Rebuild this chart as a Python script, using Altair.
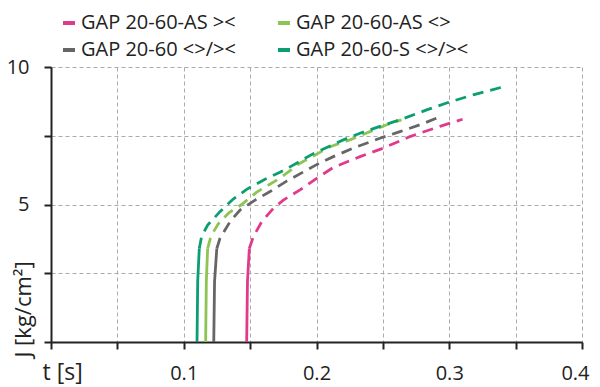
import altair as alt
import pandas as pd

# ---- data ----
series_names = ["GAP 20-60-AS ><", "GAP 20-60 <>/><", "GAP 20-60-AS <>", "GAP 20-60-S <>/><"]
series_colors = ["#e03a8c", "#666666", "#8dc454", "#0a9e72"]

# solid (initial) segments
pink_solid_t = [0.1474, 0.1480, 0.1494]
pink_solid_j = [0.0, 2.2, 3.4]
lgreen_solid_t = [0.1165, 0.1170, 0.1180]
lgreen_solid_j = [0.0, 2.2, 3.4]
gray_solid_t = [0.1226, 0.1232, 0.1249]
gray_solid_j = [0.0, 2.2, 3.4]
teal_solid_t = [0.1100, 0.1105, 0.1117]
teal_solid_j = [0.0, 2.2, 3.4]

# dashed segments
pink_dash_t = [0.1494, 0.1524, 0.1587, 0.1675, 0.1750, 0.1876, 0.2001, 0.2127, 0.2328, 0.2503, 0.2704, 0.2930, 0.3100]
pink_dash_j = [3.4, 3.83, 4.37, 4.86, 5.16, 5.53, 5.95, 6.35, 6.74, 7.05, 7.47, 7.84, 8.10]
lgreen_dash_t = [0.1180, 0.1205, 0.1260, 0.1340, 0.1436, 0.1550, 0.1725, 0.1876, 0.2102, 0.2252, 0.2403, 0.2529, 0.2640]
lgreen_dash_j = [3.4, 3.85, 4.30, 4.70, 5.00, 5.45, 5.96, 6.50, 7.10, 7.35, 7.65, 7.90, 8.08]
gray_dash_t = [0.1249, 0.1273, 0.1348, 0.1424, 0.1537, 0.1650, 0.1775, 0.1926, 0.2001, 0.2127, 0.2277, 0.2478, 0.2629, 0.2780, 0.2905]
gray_dash_j = [3.4, 3.77, 4.37, 4.80, 5.16, 5.47, 5.85, 6.25, 6.45, 6.74, 7.05, 7.41, 7.65, 7.90, 8.14]
teal_dash_t = [0.1117, 0.1135, 0.1180, 0.1273, 0.1373, 0.1474, 0.1612, 0.1725, 0.1850, 0.1976, 0.2202, 0.2328, 0.2478, 0.2629, 0.2830, 0.2980, 0.3180, 0.3400]
teal_dash_j = [3.4, 3.85, 4.25, 4.74, 5.20, 5.55, 5.92, 6.17, 6.50, 6.85, 7.35, 7.59, 7.84, 8.08, 8.44, 8.69, 8.99, 9.27]

x_ticks = [0, 0.05, 0.1, 0.15, 0.2, 0.25, 0.3, 0.35, 0.4]
y_ticks = [0, 2.5, 5, 7.5, 10]

# ---- build table ----
rows = []
def add(name, part, ts, js):
    for i, (t, j) in enumerate(zip(ts, js)):
        rows.append({"series": name, "part": part, "t": t, "J": j, "order": i})

PINK, GRAY, LGREEN, TEAL = series_names
add(PINK, "solid", pink_solid_t, pink_solid_j)
add(LGREEN, "solid", lgreen_solid_t, lgreen_solid_j)
add(GRAY, "solid", gray_solid_t, gray_solid_j)
add(TEAL, "solid", teal_solid_t, teal_solid_j)
add(PINK, "dash", pink_dash_t, pink_dash_j)
add(LGREEN, "dash", lgreen_dash_t, lgreen_dash_j)
add(GRAY, "dash", gray_dash_t, gray_dash_j)
add(TEAL, "dash", teal_dash_t, teal_dash_j)
df = pd.DataFrame(rows)

FONT = "Open Sans"
TXT = "#222222"

x_enc = alt.X("t:Q", scale=alt.Scale(domain=[0, 0.4], nice=False),
              axis=alt.Axis(values=x_ticks, title="t [s]",
                            labelExpr="(datum.value > 0.07 && abs(datum.value*10 - round(datum.value*10)) < 0.001) ? format(datum.value, '.1f') : ''",
                            titleX=-9, titleY=37, titleAlign="left", titleBaseline="alphabetic",
                            labelBaseline="alphabetic", labelPadding=30, labelFlush=True,
                            labelFlushOffset=7, labelOverlap=False))
y_enc = alt.Y("J:Q", scale=alt.Scale(domain=[0, 10], nice=False),
              axis=alt.Axis(values=y_ticks, title="J [kg/cm²]",
                            labelExpr="(datum.value == 5 || datum.value == 10) ? format(datum.value, 'd') : ''",
                            titleAngle=270, titleX=-21, titleY=290, titleAlign="left",
                            titleFontSize=22,
                            titleBaseline="alphabetic", labelPadding=15, labelOverlap=False,
                            labelFlush=False))
color_enc = alt.Color("series:N",
                      scale=alt.Scale(domain=series_names, range=series_colors),
                      legend=alt.Legend(title=None, orient="none", legendX=8, legendY=-54,
                                        columns=2, symbolType="stroke", symbolStrokeWidth=4,
                                        symbolSize=144, symbolDash=[1, 0], labelOffset=2,
                                        columnPadding=34, rowPadding=7, labelFont=FONT,
                                        labelFontSize=20, labelColor=TXT, padding=0,
                                        labelLimit=400))

base = alt.Chart(df)
solid = base.transform_filter(alt.datum.part == "solid").mark_line(strokeWidth=2.8).encode(
    x=x_enc, y=y_enc, color=color_enc, detail="series:N", order="order:Q")
dash = base.transform_filter(alt.datum.part == "dash").mark_line(strokeWidth=2.8, strokeDash=[11, 7]).encode(
    x=x_enc, y=y_enc, color=color_enc, detail="series:N", order="order:Q")

chart = alt.layer(solid, dash).properties(
    width=531, height=275,
    autosize=alt.AutoSizeParams(type="none"),
    padding={"left": 43, "top": 59, "right": 10, "bottom": 45},
).configure_view(stroke=None).configure_axis(
    grid=True, gridDash=[4, 3], gridColor="#aaaaaa", gridWidth=1,
    domainColor=TXT, domainWidth=2, tickColor=TXT, tickWidth=2, tickSize=7,
    labelFont=FONT, labelFontSize=20, labelColor=TXT,
    titleFont=FONT, titleFontSize=23, titleColor=TXT, titleFontWeight="normal",
)

chart.save("out.html", embed_options={"renderer": "svg", "actions": False})
